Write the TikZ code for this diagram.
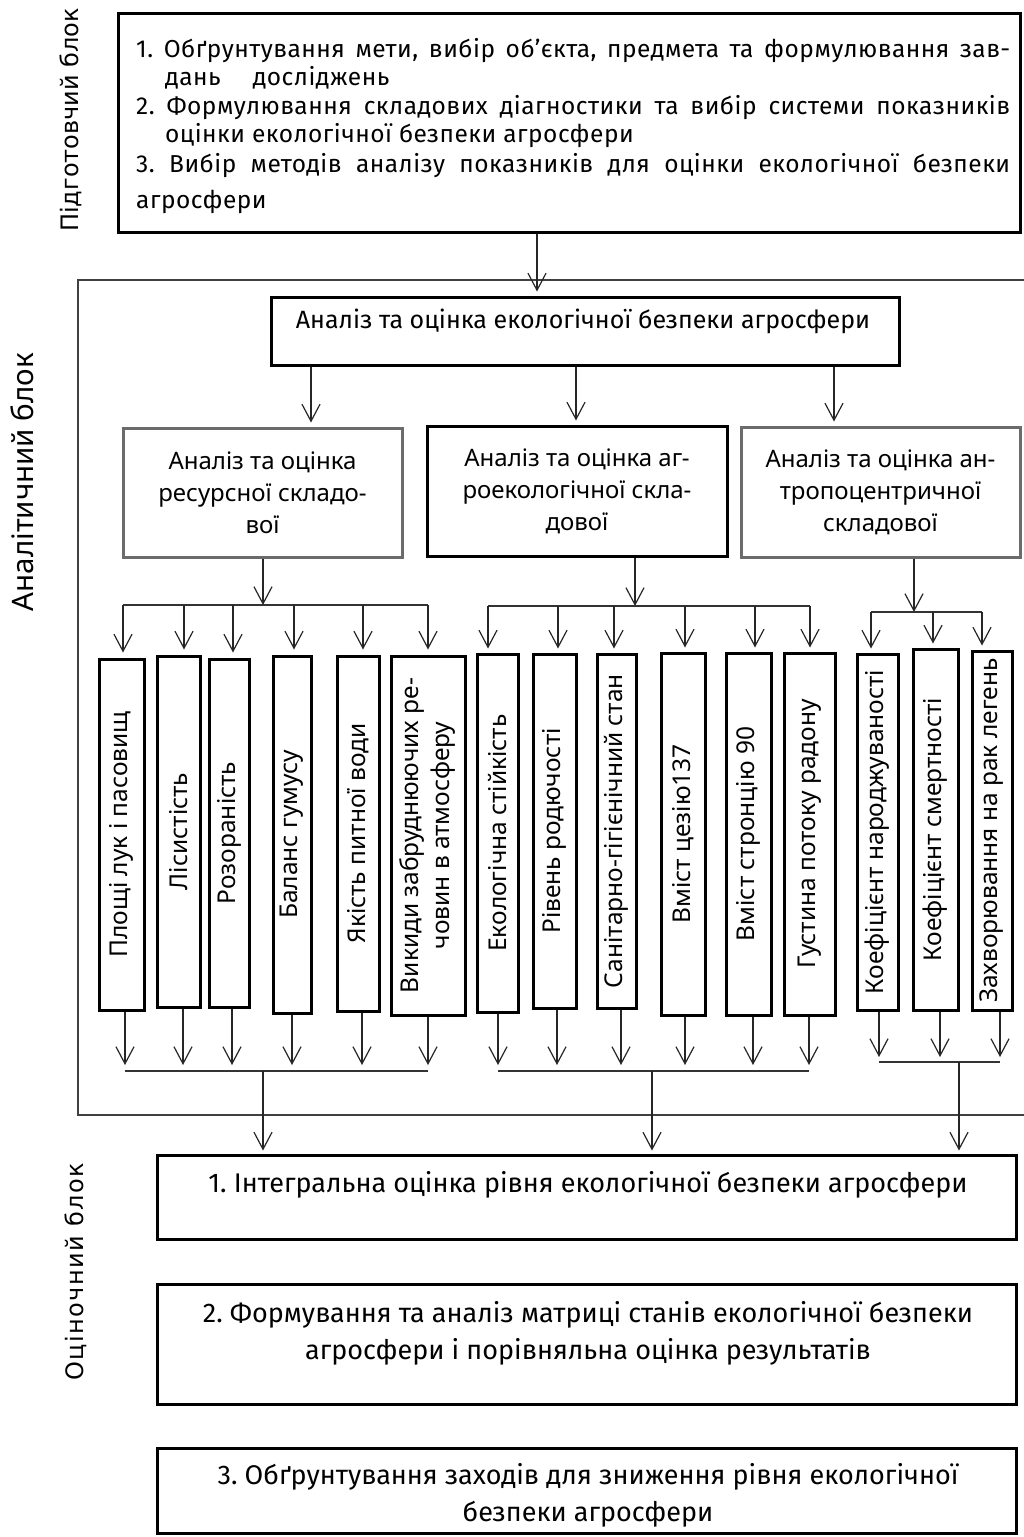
\documentclass[tikz,border=0pt]{standalone}
\usepackage{fontspec}
\setmainfont{Noto Sans}
\newfontfamily\finefont{Fira Sans}
\newfontfamily\topfont{Fira Sans}[LetterSpace=2]
\newfontfamily\sidefont{DejaVu Sans}
\newfontfamily\sidefontwide{DejaVu Sans}[LetterSpace=6]
\usetikzlibrary{arrows.meta}
\frenchspacing
\begin{document}
\begin{tikzpicture}[x=1pt,y=-1pt,
  blk/.style={draw=black, line width=3pt, inner sep=0pt},
  gblk/.style={draw=black!58, line width=3pt, inner sep=0pt},
  vb/.style={blk, font=\fontsize{24.5}{31}\selectfont},
  sub/.style={align=center, font=\fontsize{24}{32}\selectfont},
  toptxt/.style={inner sep=0pt, anchor=base west, font=\topfont\fontsize{24.5}{28}\selectfont\frenchspacing},
  btxt/.style={inner sep=0pt, align=center, font=\finefont\fontsize{27}{37}\selectfont},
  arr/.style={draw=black!85, line width=1.2pt, -{Straight Barb[length=17pt,width=18pt]}},
  busline/.style={draw=black!80, line width=1.2pt},
  frameline/.style={draw=black!75, line width=1.7pt}]
\useasboundingbox (0,0) rectangle (1024,1537);

% side labels
\node[rotate=90, inner sep=0pt, font=\sidefont\fontsize{24}{24}\selectfont] (lp) at (71,120) {Підготовчий блок};
\node[rotate=90, inner sep=0pt, font=\fontsize{29.5}{29.5}\selectfont] (la) at (22,482) {Аналітичний блок};
\node[rotate=90, inner sep=0pt, font=\sidefontwide\fontsize{24}{24}\selectfont] (lo) at (76,1272) {Оціночний блок};

% top box
\node[blk, minimum width=902pt, minimum height=219pt] (top) at (569,122.5) {};
\node[toptxt] (t1) at (136,57) {\makebox[874pt][s]{1. Обґрунтування мети, вибір об’єкта, предмета та формулювання зав-}};
\node[toptxt] (t2) at (165,85) {дань\hspace{32pt}досліджень};
\node[toptxt] (t3) at (136,114) {\makebox[874pt][s]{2. Формулювання складових діагностики та вибір системи показників}};
\node[toptxt] (t4) at (165,142) {оцінки екологічної безпеки агросфери};
\node[toptxt] (t5) at (136,172) {\makebox[874pt][s]{3. Вибір методів аналізу показників для оцінки екологічної безпеки}};
\node[toptxt] (t6) at (136,208) {агросфери};

% analytic frame
\draw[frameline] (1024,280) -- (78,280) -- (78,1115) -- (1024,1115);

% main analysis box
\node[blk, minimum width=628pt, minimum height=68pt] (main) at (585,331) {};
\node[inner sep=0pt, anchor=base, font=\finefont\fontsize{25}{25}\selectfont] (mt) at (583,328) {Аналіз та оцінка екологічної безпеки агросфери};
\draw[arr, shorten >=4pt] (537,0 |- top.south) -- (537,0 |- main.north);

% three components
\node[gblk, sub, minimum width=279pt, minimum height=129pt] (sA) at (262.5,492.5) {Аналіз та оцінка\\ресурсної складо-\\вої};
\node[blk, sub, minimum width=300pt, minimum height=130pt] (sB) at (577,491) {Аналіз та оцінка аг-\\роекологічної скла-\\дової};
\node[gblk, sub, minimum width=279pt, minimum height=130pt] (sC) at (880.5,492) {Аналіз та оцінка ан-\\тропоцентричної\\складової};
\draw[arr, shorten >=4pt] (311,0 |- main.south) -- (311,0 |- sA.north);
\draw[arr, shorten >=4pt] (576,0 |- main.south) -- (576,0 |- sB.north);
\draw[arr, shorten >=4pt] (834,0 |- main.south) -- (834,0 |- sC.north);

% indicator boxes
\node[vb, minimum width=45pt, minimum height=351pt] (v1) at (121.5,834.5) {\rotatebox{90}{Площі лук і пасовищ}};
\node[vb, minimum width=43pt, minimum height=351pt] (v2) at (178.5,831.5) {\rotatebox{90}{Лісистість}};
\node[vb, minimum width=40pt, minimum height=348pt] (v3) at (229,833) {\rotatebox{90}{Розораність}};
\node[vb, minimum width=38pt, minimum height=357pt] (v4) at (292,834.5) {\rotatebox{90}{Баланс гумусу}};
\node[vb, minimum width=42pt, minimum height=355pt] (v5) at (358,833.5) {\rotatebox{90}{Якість питної води}};
\node[vb, minimum width=74pt, minimum height=359pt] (v6) at (428,835.5) {\rotatebox{90}{\begin{tabular}{@{}c@{}}Викиди забруднюючих ре-\\човин в атмосферу\end{tabular}}};
\node[vb, minimum width=41pt, minimum height=358pt] (v7) at (497.5,833) {\rotatebox{90}{Екологічна стійкість}};
\node[vb, minimum width=43pt, minimum height=354pt] (v8) at (554.5,831) {\rotatebox{90}{Рівень родючості}};
\node[vb, minimum width=39pt, minimum height=354pt] (v9) at (616.5,831) {\rotatebox{90}{Санітарно-гігієнічний стан}};
\node[vb, minimum width=44pt, minimum height=362pt] (v10) at (683,834) {\rotatebox{90}{Вміст цезію137}};
\node[vb, minimum width=45pt, minimum height=362pt] (v11) at (748.5,834) {\rotatebox{90}{Вміст стронцію 90}};
\node[vb, minimum width=51pt, minimum height=362pt] (v12) at (809.5,834) {\rotatebox{90}{Густина потоку радону}};
\node[vb, minimum width=41pt, minimum height=356pt] (v13) at (877.5,832) {\rotatebox{90}{Коефіцієнт народжуваності}};
\node[vb, minimum width=45pt, minimum height=361pt] (v14) at (935.5,829.5) {\rotatebox{90}{Коефіцієнт смертності}};
\node[vb, minimum width=40pt, minimum height=359pt] (v15) at (992,830.5) {\rotatebox{90}{Захворювання на рак легень}};

% upper buses
\coordinate (busA) at (263,605);
\coordinate (busB) at (635,606);
\coordinate (busC) at (914,612);
\draw[arr] (sA.south -| busA) -- (busA);
\draw[arr] (sB.south -| busB) -- (busB);
\draw[arr] (sC.south -| busC) -- (busC);
\draw[busline] (123,0 |- busA) -- (428,0 |- busA);
\draw[busline] (488,0 |- busB) -- (810,0 |- busB);
\draw[busline] (871,0 |- busC) -- (982,0 |- busC);
\draw[arr, shorten >=5pt] (123,0 |- busA) -- (123,0 |- v1.north);
\draw[arr, shorten >=5pt] (184,0 |- busA) -- (184,0 |- v2.north);
\draw[arr, shorten >=5pt] (233,0 |- busA) -- (233,0 |- v3.north);
\draw[arr, shorten >=5pt] (294,0 |- busA) -- (294,0 |- v4.north);
\draw[arr, shorten >=5pt] (363,0 |- busA) -- (363,0 |- v5.north);
\draw[arr, shorten >=5pt] (428,0 |- busA) -- (428,0 |- v6.north);
\draw[arr, shorten >=4pt] (488,0 |- busB) -- (488,0 |- v7.north);
\draw[arr, shorten >=4pt] (558,0 |- busB) -- (558,0 |- v8.north);
\draw[arr, shorten >=4pt] (614,0 |- busB) -- (614,0 |- v9.north);
\draw[arr, shorten >=4pt] (685,0 |- busB) -- (685,0 |- v10.north);
\draw[arr, shorten >=4pt] (755,0 |- busB) -- (755,0 |- v11.north);
\draw[arr, shorten >=4pt] (810,0 |- busB) -- (810,0 |- v12.north);
\draw[arr, shorten >=4pt] (871,0 |- busC) -- (871,0 |- v13.north);
\draw[arr, shorten >=4pt] (933,0 |- busC) -- (933,0 |- v14.north);
\draw[arr, shorten >=4pt] (982,0 |- busC) -- (982,0 |- v15.north);

% lower buses
\coordinate (lowA) at (263,1071);
\coordinate (lowB) at (652,1071);
\coordinate (lowC) at (959,1062);
\draw[arr, shorten >=6pt] (125,0 |- v1.south) -- (125,0 |- lowA);
\draw[arr, shorten >=6pt] (183,0 |- v2.south) -- (183,0 |- lowA);
\draw[arr, shorten >=6pt] (232,0 |- v3.south) -- (232,0 |- lowA);
\draw[arr, shorten >=6pt] (292,0 |- v4.south) -- (292,0 |- lowA);
\draw[arr, shorten >=6pt] (362,0 |- v5.south) -- (362,0 |- lowA);
\draw[arr, shorten >=6pt] (428,0 |- v6.south) -- (428,0 |- lowA);
\draw[arr, shorten >=6pt] (498,0 |- v7.south) -- (498,0 |- lowB);
\draw[arr, shorten >=6pt] (557,0 |- v8.south) -- (557,0 |- lowB);
\draw[arr, shorten >=6pt] (621,0 |- v9.south) -- (621,0 |- lowB);
\draw[arr, shorten >=6pt] (685,0 |- v10.south) -- (685,0 |- lowB);
\draw[arr, shorten >=6pt] (753,0 |- v11.south) -- (753,0 |- lowB);
\draw[arr, shorten >=6pt] (809,0 |- v12.south) -- (809,0 |- lowB);
\draw[arr, shorten >=5pt] (879,0 |- v13.south) -- (879,0 |- lowC);
\draw[arr, shorten >=5pt] (940,0 |- v14.south) -- (940,0 |- lowC);
\draw[arr, shorten >=5pt] (1000,0 |- v15.south) -- (1000,0 |- lowC);
\draw[busline] (125,0 |- lowA) -- (428,0 |- lowA);
\draw[busline] (498,0 |- lowB) -- (809,0 |- lowB);
\draw[busline] (879,0 |- lowC) -- (1000,0 |- lowC);

% evaluation boxes
\node[blk, minimum width=859pt, minimum height=84pt] (e1) at (586.5,1197) {};
\node[blk, minimum width=859pt, minimum height=120pt] (e2) at (586.5,1344) {};
\node[blk, minimum width=859pt, minimum height=85pt] (e3) at (586.5,1490.5) {};
\node[btxt] (et1) at (588,1185) {1. Інтегральна оцінка рівня екологічної безпеки агросфери};
\node[btxt] (et2) at (588,1333) {2. Формування та аналіз матриці станів екологічної безпеки\\агросфери і порівняльна оцінка результатів};
\node[btxt] (et3) at (588,1495) {3. Обґрунтування заходів для зниження рівня екологічної\\безпеки агросфери};
\draw[arr, shorten >=3pt] (lowA) -- (lowA |- e1.north);
\draw[arr, shorten >=3pt] (lowB) -- (lowB |- e1.north);
\draw[arr, shorten >=3pt] (lowC) -- (lowC |- e1.north);
\end{tikzpicture}
\end{document}
